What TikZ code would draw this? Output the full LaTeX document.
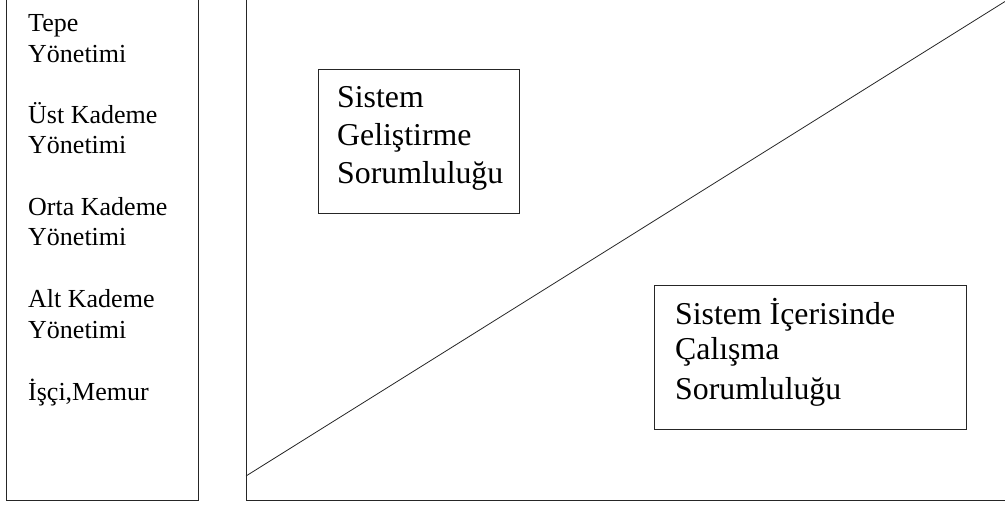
\documentclass[tikz,border=0pt]{standalone}
\usepackage{fontspec}
\setmainfont{Liberation Serif}
\begin{document}
\begin{tikzpicture}[x=1pt,y=-1pt,
  frame/.style={draw=black!85,line width=0.9pt},
  respbox/.style={frame,rectangle,inner sep=0pt,anchor=north west},
  levels/.style={font=\fontsize{26}{30.7}\selectfont,align=left,inner sep=0pt,anchor=base west},
  resp/.style={font=\fontsize{31.8}{38}\selectfont,align=left,inner sep=0pt,anchor=base west}]
\useasboundingbox (0,0) rectangle (1005,506);

% management levels column (top edge runs off the page)
\coordinate (lvTL) at (6.5,-3);
\coordinate (lvBL) at (6.5,500.5);
\coordinate (lvBR) at (198,500.5);
\coordinate (lvTR) at (198,-3);
\draw[frame] (lvTL) -- (lvBL) -- (lvBR) -- (lvTR);

% multi-line nodes: the base anchor sits on the last line
\node[levels] (top)    at (28,62)    {Tepe\\Yönetimi};
\node[levels] (upper)  at (28,153.8) {Üst Kademe\\Yönetimi};
\node[levels] (middle) at (28,245.9) {Orta Kademe\\Yönetimi};
\node[levels] (lower)  at (28,338)   {Alt Kademe\\Yönetimi};
\node[levels] (staff)  at (28,400)   {İşçi,Memur};

% responsibility frame (top and right edges run off the page)
\coordinate (rfTL) at (246,-3);
\coordinate (rfBL) at (246,500.5);
\coordinate (rfBR) at (1008,500.5);
\draw[frame] (rfTL) -- (rfBL) -- (rfBR);

% dividing diagonal
\coordinate (diagS) at (246,476);
\coordinate (diagE) at (1005,1.5);
\draw[frame,line width=0.8pt] (diagS) -- (diagE);

% responsibility boxes
\node[respbox,minimum width=201.5pt,minimum height=144pt] (devbox) at (317.5,68.5) {};
\node[resp] (devtext) at (337,183) {Sistem\\Geliştirme\\Sorumluluğu};

\node[respbox,minimum width=312pt,minimum height=143.5pt] (workbox) at (654,285) {};
\node[resp] (worktext) at (675,399) {Sistem İçerisinde\\[-3pt]Çalışma\\[2pt]Sorumluluğu};
\end{tikzpicture}
\end{document}
